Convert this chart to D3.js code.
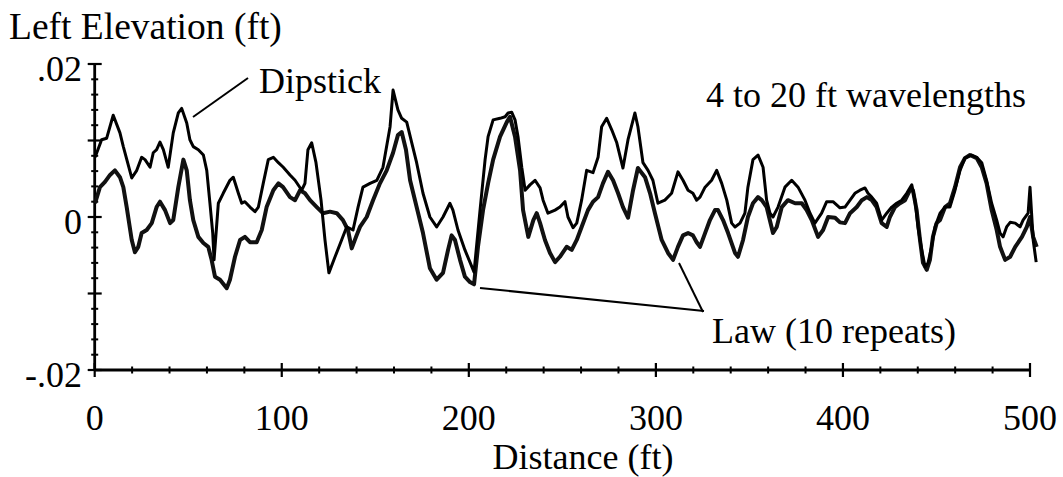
<!DOCTYPE html>
<html>
<head>
<meta charset="utf-8">
<script src="https://cdn.jsdelivr.net/npm/d3@7"></script>
<style>
  html, body { margin: 0; padding: 0; background: #fff; }
  svg { display: block; }
  text { font-family: "Liberation Serif", "Times New Roman", serif; fill: #000; }
</style>
</head>
<body>
<svg id="chart" width="1063" height="477"></svg>
<script>
// ---- data (distance in ft, elevation in ft) ----
const dipstickDist = [0.2,3.7,6.4,9.9,13.5,15.3,19.8,22.5,25.1,26.9,29.6,31.3,33.1,34.9,36.7,39.3,42.0,44.7,46.5,49.2,50.9,52.7,55.4,58.1,59.9,61.6,63.1,63.8,66.1,68.7,72.3,74.1,76.8,78.6,80.3,83.0,85.7,87.5,90.1,92.8,95.5,98.2,100.8,104.4,107.1,110.7,112.4,114.0,116.0,118.3,121.0,123.1,125.2,128.5,132.0,134.7,138.1,140.8,143.4,147.2,150.8,154.1,157.9,159.5,162.1,164.1,166.8,169.5,172.1,175.5,179.2,182.8,186.2,189.9,191.5,194.2,197.9,200.6,202.8,206.0,208.7,210.3,213.0,216.7,219.4,221.0,222.9,224.7,226.3,228.3,230.1,232.7,235.4,238.1,239.7,242.3,246.1,248.7,251.4,253.0,255.7,257.7,260.3,263.0,266.4,269.1,271.0,273.7,276.4,279.1,282.4,285.1,288.8,290.4,293.1,295.8,298.4,301.1,304.8,308.4,311.8,314.5,317.2,319.8,321.8,323.6,326.3,329.8,332.5,335.2,337.9,340.5,342.3,345.0,347.6,349.2,351.9,354.6,357.3,359.2,361.0,362.6,365.3,369.0,372.6,376.0,379.7,382.4,385.0,388.6,391.3,394.7,398.4,401.1,403.8,406.4,409.1,411.8,413.4,415.4,418.0,420.7,423.4,426.1,428.7,431.4,434.1,436.8,438.5,440.1,442.1,443.9,445.5,447.4,449.2,451.9,454.6,457.2,459.9,462.6,465.2,468.8,471.5,474.2,476.8,479.5,482.2,484.0,485.6,487.5,489.4,492.1,494.7,496.3,499.0,500.0,501.7,503.3];
const dipstickElev = [0.0078,0.0101,0.0103,0.0133,0.0110,0.0092,0.0051,0.0061,0.0078,0.0075,0.0065,0.0084,0.0088,0.0098,0.0088,0.0065,0.0110,0.0136,0.0142,0.0123,0.0101,0.0092,0.0088,0.0081,0.0061,0.0018,-0.0021,-0.0056,0.0018,0.0031,0.0048,0.0052,0.0031,0.0018,0.0020,0.0013,0.0007,0.0013,0.0044,0.0075,0.0078,0.0071,0.0065,0.0055,0.0048,0.0035,0.0044,0.0088,0.0097,0.0071,0.0022,-0.0030,-0.0073,-0.0052,-0.0030,-0.0013,-0.0017,0.0013,0.0039,0.0044,0.0048,0.0065,0.0118,0.0166,0.0140,0.0129,0.0124,0.0097,0.0071,0.0031,0.0000,-0.0013,0.0000,0.0018,0.0009,-0.0017,-0.0043,-0.0059,-0.0072,0.0009,0.0075,0.0105,0.0127,0.0129,0.0131,0.0136,0.0137,0.0127,0.0105,0.0065,0.0035,0.0042,0.0048,0.0038,0.0022,0.0005,0.0009,0.0013,0.0020,0.0000,-0.0014,-0.0008,0.0022,0.0061,0.0058,0.0078,0.0118,0.0129,0.0114,0.0097,0.0064,0.0101,0.0136,0.0118,0.0071,0.0061,0.0048,0.0018,0.0022,0.0031,0.0059,0.0048,0.0035,0.0031,0.0022,0.0026,0.0039,0.0048,0.0061,0.0044,0.0022,-0.0008,-0.0013,-0.0008,0.0005,0.0039,0.0075,0.0081,0.0065,0.0022,0.0005,0.0000,0.0013,0.0039,0.0048,0.0039,0.0022,0.0005,-0.0008,0.0005,0.0020,0.0020,0.0012,0.0013,0.0022,0.0031,0.0035,0.0038,0.0031,0.0026,0.0018,-0.0004,0.0005,0.0013,0.0018,0.0022,0.0031,0.0042,0.0022,-0.0013,-0.0043,-0.0065,-0.0060,-0.0039,-0.0013,0.0005,0.0013,0.0013,0.0035,0.0061,0.0077,0.0081,0.0078,0.0071,0.0048,0.0018,-0.0004,-0.0021,-0.0026,-0.0013,-0.0007,-0.0008,-0.0013,-0.0004,0.0005,0.0039,-0.0030,-0.0059];

const lawDist = [0.2,2.8,5.5,8.2,10.8,13.5,15.3,17.1,19.8,21.5,23.3,25.1,27.8,30.5,33.1,34.9,37.6,40.3,42.0,44.7,47.4,49.2,50.9,52.7,55.4,58.1,60.7,62.5,64.3,67.0,70.6,72.3,75.0,77.7,80.3,83.0,86.6,89.3,91.9,95.5,98.2,100.7,104.4,107.1,109.8,112.4,115.1,118.7,122.0,125.8,129.4,132.7,135.4,137.4,139.7,141.8,145.4,148.8,152.5,156.1,159.5,162.1,164.1,166.4,168.6,172.1,175.5,179.2,182.8,186.2,188.9,190.8,192.6,195.3,197.9,200.6,202.8,204.9,207.6,210.3,213.0,216.7,220.3,222.0,224.7,227.4,229.0,231.8,234.5,236.3,238.1,240.7,243.4,246.1,248.7,252.3,255.0,257.7,260.3,263.7,266.4,269.1,271.7,274.4,277.1,279.8,282.4,285.1,287.8,290.4,294.2,296.9,299.5,303.1,306.5,309.2,311.8,314.5,317.2,319.8,321.8,323.6,326.3,328.9,331.6,333.2,335.9,338.6,342.3,343.9,346.6,349.2,351.9,354.6,356.6,359.2,362.6,364.6,367.3,370.6,374.4,378.0,380.6,383.3,386.7,389.4,392.1,395.8,398.4,401.1,403.8,407.4,410.1,412.8,415.4,418.0,420.7,423.4,425.1,427.8,430.5,433.2,435.8,437.4,439.4,441.2,442.8,444.8,446.5,448.1,450.1,451.9,454.6,457.2,459.9,462.6,465.2,467.9,471.5,474.2,476.8,479.5,482.2,484.0,486.7,489.4,492.1,495.7,498.3,500.0,501.7,503.6];
const lawElev = [0.0018,0.0039,0.0046,0.0055,0.0061,0.0052,0.0039,0.0013,-0.0030,-0.0046,-0.0039,-0.0021,-0.0017,-0.0008,0.0013,0.0020,0.0009,-0.0008,-0.0004,0.0039,0.0075,0.0061,0.0022,-0.0004,-0.0026,-0.0034,-0.0039,-0.0056,-0.0078,-0.0082,-0.0093,-0.0082,-0.0052,-0.0030,-0.0026,-0.0033,-0.0033,-0.0017,0.0013,0.0035,0.0044,0.0039,0.0026,0.0022,0.0035,0.0031,0.0022,0.0013,0.0005,0.0007,0.0005,-0.0004,-0.0017,-0.0041,-0.0026,-0.0013,0.0000,0.0022,0.0044,0.0061,0.0084,0.0107,0.0111,0.0088,0.0048,0.0013,-0.0021,-0.0067,-0.0082,-0.0073,-0.0043,-0.0024,-0.0030,-0.0056,-0.0078,-0.0085,-0.0088,-0.0039,0.0009,0.0044,0.0075,0.0105,0.0124,0.0131,0.0105,0.0061,0.0009,-0.0026,-0.0004,0.0005,-0.0008,-0.0030,-0.0047,-0.0059,-0.0052,-0.0039,-0.0043,-0.0030,-0.0013,0.0009,0.0020,0.0026,0.0044,0.0059,0.0048,0.0031,0.0013,-0.0001,0.0035,0.0064,0.0052,0.0031,0.0005,-0.0030,-0.0047,-0.0056,-0.0039,-0.0024,-0.0021,-0.0024,-0.0033,-0.0039,-0.0021,-0.0004,0.0009,0.0009,-0.0004,-0.0021,-0.0047,-0.0052,-0.0030,0.0000,0.0018,0.0026,0.0022,0.0013,-0.0021,-0.0013,0.0013,0.0022,0.0018,0.0018,0.0009,-0.0004,-0.0026,-0.0017,0.0000,-0.0001,-0.0007,-0.0008,0.0005,0.0013,0.0022,0.0026,0.0022,0.0013,-0.0008,-0.0013,0.0000,0.0013,0.0018,0.0022,0.0035,0.0035,0.0009,-0.0030,-0.0060,-0.0069,-0.0056,-0.0026,-0.0008,-0.0004,0.0013,0.0018,0.0039,0.0065,0.0077,0.0081,0.0077,0.0065,0.0044,0.0009,-0.0017,-0.0039,-0.0056,-0.0052,-0.0039,-0.0026,-0.0013,0.0000,-0.0026,-0.0039];

const xMajorTicks = [0, 100, 200, 300, 400, 500];
const xTickLabels = ["0", "100", "200", "300", "400", "500"];
const xMinorTicks = [20,40,60,80,120,140,160,180,220,240,260,280,320,340,360,380,420,440,460,480];
const yMajorTicks = [0.02, 0.01, 0, -0.01, -0.02];
const yLabeledTicks = [0.02, 0, -0.02];
const yTickLabels = [".02", "0", "-.02"];
const yMinorTicks = [0.018,0.016,0.014,0.012,0.008,0.006,0.004,0.002,-0.002,-0.004,-0.006,-0.008,-0.012,-0.014,-0.016,-0.018];

const titleText = "Left Elevation (ft)";
const xTitleText = "Distance (ft)";
const noteText = "4 to 20 ft wavelengths";
const dipstickLabel = "Dipstick";
const lawLabel = "Law (10 repeats)";

// ---- drawing ----
const svg = d3.select("#chart");
const x = d3.scaleLinear().domain([0, 500]).range([94.7, 1030]);
const y = d3.scaleLinear().domain([-0.02, 0.02]).range([370, 64]);

const FS = 36;

// axes lines
svg.append("line").attr("x1", x(0)).attr("x2", x(0)).attr("y1", y(0.02)).attr("y2", y(-0.02))
  .attr("stroke", "#000").attr("stroke-width", 2.8);
svg.append("line").attr("x1", x(0)).attr("x2", x(500)).attr("y1", y(-0.02)).attr("y2", y(-0.02))
  .attr("stroke", "#000").attr("stroke-width", 2.8);

// y ticks
svg.selectAll(".ymaj").data(yMajorTicks).enter().append("line")
  .attr("x1", x(0) - 7).attr("x2", x(0) + 7)
  .attr("y1", d => y(d)).attr("y2", d => y(d))
  .attr("stroke", "#000").attr("stroke-width", 2.2);
svg.selectAll(".ymin").data(yMinorTicks).enter().append("line")
  .attr("x1", x(0) - 3.5).attr("x2", x(0) + 3.5)
  .attr("y1", d => y(d)).attr("y2", d => y(d))
  .attr("stroke", "#000").attr("stroke-width", 2);

// x ticks
svg.selectAll(".xmaj").data(xMajorTicks).enter().append("line")
  .attr("x1", d => x(d)).attr("x2", d => x(d))
  .attr("y1", y(-0.02) - 7).attr("y2", y(-0.02) + 7)
  .attr("stroke", "#000").attr("stroke-width", 2.2);
svg.selectAll(".xmin").data(xMinorTicks).enter().append("line")
  .attr("x1", d => x(d)).attr("x2", d => x(d))
  .attr("y1", y(-0.02) - 3.5).attr("y2", y(-0.02) + 3.5)
  .attr("stroke", "#000").attr("stroke-width", 2);

// tick labels
svg.selectAll(".ylab").data(yLabeledTicks).enter().append("text")
  .attr("x", 82).attr("y", d => y(d) + 17)
  .attr("text-anchor", "end").attr("font-size", FS)
  .text((d, i) => yTickLabels[i]);
svg.selectAll(".xlab").data(xMajorTicks).enter().append("text")
  .attr("x", d => x(d)).attr("y", 430)
  .attr("text-anchor", "middle").attr("font-size", FS)
  .text((d, i) => xTickLabels[i]);

// titles
svg.append("text").attr("x", 9).attr("y", 39).attr("font-size", 37.5).text(titleText);
svg.append("text").attr("x", 583).attr("y", 469).attr("text-anchor", "middle").attr("font-size", FS).text(xTitleText);
svg.append("text").attr("x", 706).attr("y", 107).attr("font-size", FS).text(noteText);

// data lines
const line = d3.line().x(d => x(d[0])).y(d => y(d[1]));
const lawData = lawDist.map((d, i) => [d, lawElev[i]]);
const dipData = dipstickDist.map((d, i) => [d, dipstickElev[i]]);

svg.append("path").datum(lawData).attr("d", line)
  .attr("fill", "none").attr("stroke", "#111").attr("stroke-width", 4)
  .attr("stroke-linejoin", "round");
svg.append("path").datum(dipData).attr("d", line)
  .attr("fill", "none").attr("stroke", "#000").attr("stroke-width", 3)
  .attr("stroke-linejoin", "round");

// annotations
svg.append("text").attr("x", 259).attr("y", 93).attr("font-size", FS).text(dipstickLabel);
svg.append("line").attr("x1", 193).attr("y1", 117).attr("x2", 248).attr("y2", 78)
  .attr("stroke", "#000").attr("stroke-width", 2);

svg.append("text").attr("x", 712).attr("y", 343).attr("font-size", FS).text(lawLabel);
svg.append("line").attr("x1", 480).attr("y1", 288).attr("x2", 704).attr("y2", 311)
  .attr("stroke", "#000").attr("stroke-width", 2);
svg.append("line").attr("x1", 679).attr("y1", 263).attr("x2", 703).attr("y2", 312)
  .attr("stroke", "#000").attr("stroke-width", 2);
</script>
</body>
</html>
